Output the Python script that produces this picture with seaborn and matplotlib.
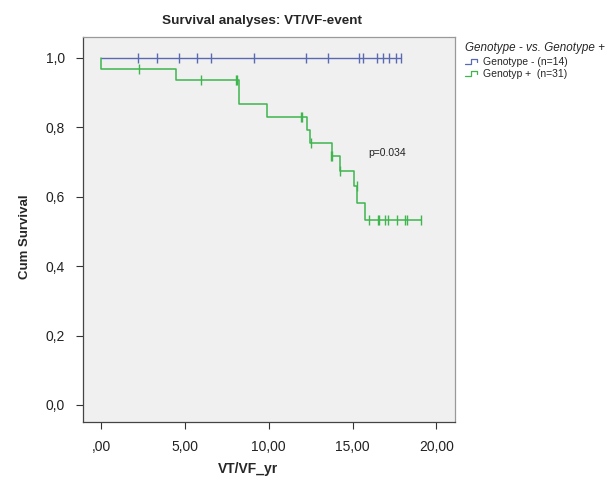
import numpy as np
import pandas as pd
import seaborn as sns
import matplotlib
matplotlib.use("Agg")
import matplotlib.pyplot as plt
from matplotlib.lines import Line2D
from matplotlib.legend_handler import HandlerBase

# ---- data ----
blue_t = [0.0, 17.90]
blue_s = [1.0, 1.0]
blue_cens_t = [2.22, 3.35, 4.66, 5.70, 6.53, 9.11, 12.24, 13.53, 15.38, 15.61,
               16.43, 16.80, 17.20, 17.56, 17.90]

green_t = [0.0, 0.0, 4.48, 8.21, 9.88, 12.28, 12.44, 13.77, 14.23, 15.06, 15.26, 15.73, 19.10]
green_s = [1.0, 0.968, 0.935, 0.866, 0.829, 0.792, 0.754, 0.716, 0.675, 0.631, 0.582, 0.532, 0.532]
green_cens_t = [2.28, 5.95, 8.02, 8.10, 11.90, 11.96, 12.50, 13.74, 13.80, 14.27, 15.26,
                15.97, 16.53, 16.60, 16.96, 17.12, 17.64, 18.15, 18.23, 19.10]
green_cens_s = [0.968, 0.935, 0.935, 0.935, 0.829, 0.829, 0.754, 0.716, 0.716, 0.675, 0.631,
                0.532, 0.532, 0.532, 0.532, 0.532, 0.532, 0.532, 0.532, 0.532]

x_ticks = [0, 5, 10, 15, 20]
x_ticklabels = [",00", "5,00", "10,00", "15,00", "20,00"]
y_ticks = [0.0, 0.2, 0.4, 0.6, 0.8, 1.0]
y_ticklabels = ["0,0", "0,2", "0,4", "0,6", "0,8", "1,0"]
labels = ["Genotype - (n=14)", "Genotyp +  (n=31)"]

BLUE = "#5a6ab0"
GREEN = "#3fb54e"

sns.set_theme(style="white")
plt.rcParams["font.family"] = ["Liberation Sans", "DejaVu Sans"]

fig = plt.figure(figsize=(6.13, 4.80), dpi=100)
ax = fig.add_axes([0.135, 0.121, 0.607, 0.801])
ax.set_facecolor("#f0f0f0")

df_b = pd.DataFrame({"t": blue_t, "s": blue_s})
df_g = pd.DataFrame({"t": green_t, "s": green_s})
sns.lineplot(data=df_b, x="t", y="s", ax=ax, color=BLUE, lw=1.0,
             drawstyle="steps-post", estimator=None, sort=False)
sns.lineplot(data=df_g, x="t", y="s", ax=ax, color=GREEN, lw=1.1,
             drawstyle="steps-post", estimator=None, sort=False)

dfc_b = pd.DataFrame({"t": blue_cens_t, "s": [1.0] * len(blue_cens_t)})
dfc_g = pd.DataFrame({"t": green_cens_t, "s": green_cens_s})
sns.scatterplot(data=dfc_b, x="t", y="s", ax=ax, marker="|", s=45,
                color=BLUE, linewidth=1.0)
sns.scatterplot(data=dfc_g, x="t", y="s", ax=ax, marker="|", s=45,
                color=GREEN, linewidth=1.0)

ax.text(15.95, 0.727, "p=0.034", fontsize=7.5, ha="left", va="center", color="#222222")

ax.set_xlim(-1.1, 21.1)
ax.set_ylim(-0.049, 1.059)
ax.set_xticks(x_ticks)
ax.set_xticklabels(x_ticklabels, fontsize=10)
ax.set_yticks(y_ticks)
ax.set_yticklabels(y_ticklabels, fontsize=10)
ax.tick_params(axis="both", which="major", direction="out", length=5, width=0.8,
               color="#333333", left=True, bottom=True, pad=8, labelcolor="#222222")

for side, sp in ax.spines.items():
    sp.set_visible(True)
    sp.set_linewidth(0.9)
    sp.set_color("#999999")
ax.spines["left"].set_color("#444444")
ax.spines["bottom"].set_color("#444444")

ax.set_xlabel("VT/VF_yr", fontsize=10, fontweight="bold")
ax.set_ylabel("Cum Survival", fontsize=9.5, fontweight="bold")
ax.xaxis.set_label_coords(0.443, -0.105)
ax.yaxis.set_label_coords(-0.14, 0.481)
ax.set_title("Survival analyses: VT/VF-event", fontsize=9.7, fontweight="bold",
             x=0.483, y=1.012)


class StepHandler(HandlerBase):
    def create_artists(self, legend, orig_handle, xdescent, ydescent, width, height,
                       fontsize, trans):
        w, h = width, height
        xs = [0, 0.45 * w, 0.45 * w, 0.85 * w, 0.85 * w]
        ys = [0.15 * h, 0.15 * h, 0.85 * h, 0.85 * h, 0.4 * h]
        ln = Line2D(np.array(xs) - xdescent, np.array(ys) - ydescent,
                    color=orig_handle.get_color(), lw=0.9, transform=trans)
        return [ln]


handles = [Line2D([], [], color=BLUE), Line2D([], [], color=GREEN)]
leg = fig.legend(handles, labels, loc="upper left", bbox_to_anchor=(0.746, 0.927),
                 frameon=False, fontsize=7.5, title="Genotype - vs. Genotype +",
                 title_fontproperties={"style": "italic", "size": 8.4},
                 handler_map={Line2D: StepHandler()}, handlelength=1.4,
                 handletextpad=0.4, labelspacing=0.2, borderpad=0.2)
leg._legend_box.align = "left"
leg._legend_box.sep = 2

fig.savefig("out.png", dpi=100, facecolor="white")
